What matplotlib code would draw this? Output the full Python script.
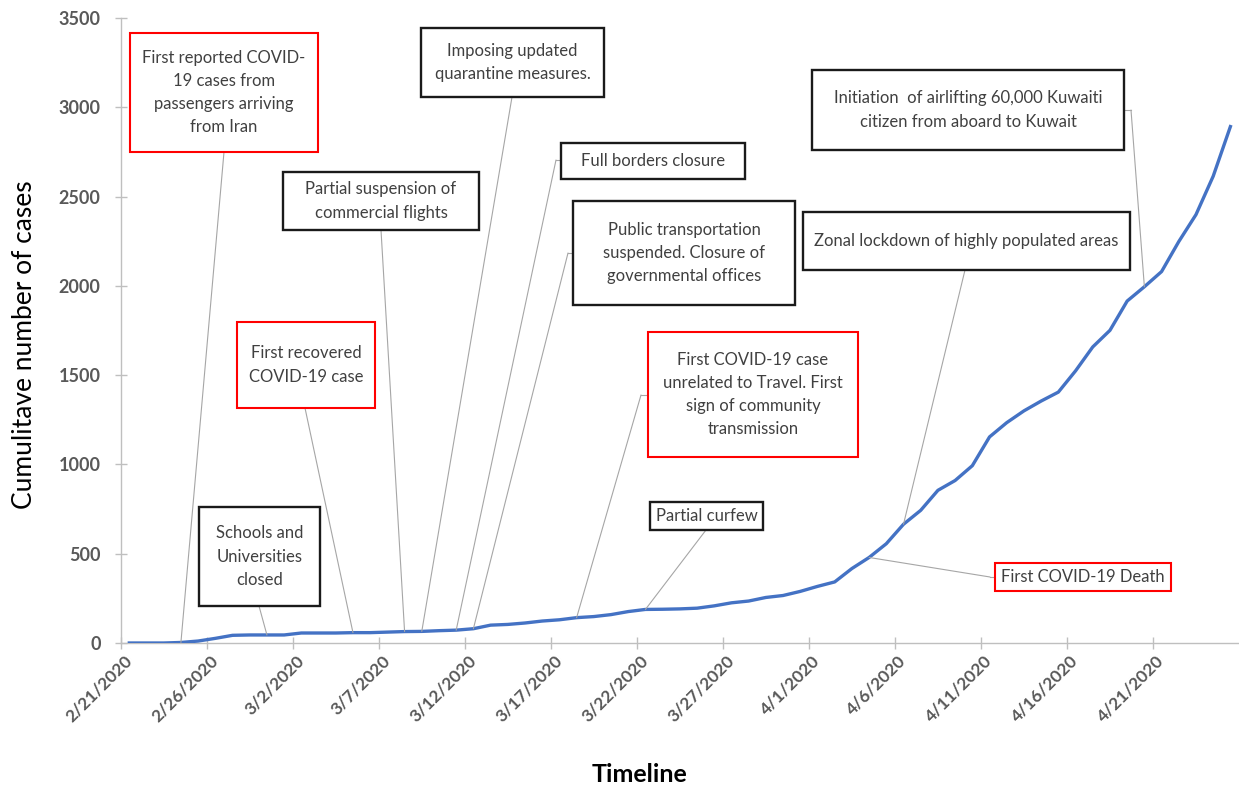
import matplotlib
matplotlib.use("Agg")
import matplotlib.pyplot as plt
from matplotlib.patches import Rectangle, ConnectionPatch
from matplotlib.lines import Line2D
from matplotlib.transforms import IdentityTransform

plt.rcParams['font.family'] = ['Lato', 'DejaVu Sans']

# Cumulative confirmed cases, one value per day from 2/21/2020 to 4/25/2020
cases = [0, 0, 0, 3, 11, 26, 43, 45, 45, 45,
         56, 56, 56, 58, 58, 61, 64, 65, 69, 72,
         80, 100, 104, 112, 123, 130, 142, 148, 159, 176,
         188, 189, 191, 195, 208, 225, 235, 255, 266, 289,
         317, 342, 417, 479, 556, 665, 743, 855, 910, 993,
         1154, 1234, 1300, 1355, 1405, 1524, 1658, 1751, 1915, 1995,
         2080, 2248, 2399, 2614, 2892]
days = list(range(len(cases)))

tick_labels = ["2/21/2020", "2/26/2020", "3/2/2020", "3/7/2020", "3/12/2020",
               "3/17/2020", "3/22/2020", "3/27/2020", "4/1/2020", "4/6/2020",
               "4/11/2020", "4/16/2020", "4/21/2020"]
y_ticks = [0, 500, 1000, 1500, 2000, 2500, 3000, 3500]

# Events: label text, day index of the event, highlighted (red) or not
event_text = [
    "First reported COVID-\n19 cases from\npassengers arriving\nfrom Iran",
    "Schools and\nUniversities\nclosed",
    "First recovered\nCOVID-19 case",
    "Partial suspension of\ncommercial flights",
    "Imposing updated\nquarantine measures.",
    "Full borders closure",
    "Public transportation\nsuspended. Closure of\ngovernmental offices",
    "First COVID-19 case\nunrelated to Travel. First\nsign of community\ntransmission",
    "Partial curfew",
    "First COVID-19 Death",
    "Zonal lockdown of highly populated areas",
    "Initiation  of airlifting 60,000 Kuwaiti\ncitizen from aboard to Kuwait",
]
event_day = [3, 8, 13, 16, 17, 19, 20, 26, 30, 43, 45, 59]
event_red = [True, False, True, False, False, False, False, True, False, True, False, False]

# Box layout in figure pixels (left, top, right, bottom; top-left origin),
# leader start point and optional elbow point
box_px = [
    (130, 33, 318, 152),
    (199, 507, 320, 606),
    (237, 322, 375, 408),
    (283, 172, 479, 230),
    (421, 28, 604, 97),
    (561, 143, 745, 179),
    (573, 201, 795, 305),
    (648, 332, 858, 457),
    (650, 502, 763, 530),
    (995, 563, 1171, 591),
    (803, 212, 1130, 270),
    (812, 70, 1124, 150),
]
lead_start = [
    ((224, 152), None),
    ((259, 606), None),
    ((305, 408), None),
    ((381, 230), None),
    ((512, 97), None),
    ((561, 160), (556, 160)),
    ((573, 253), (568, 253)),
    ((648, 395), (641, 395)),
    ((706, 530), None),
    ((995, 577), (990, 577)),
    ((965, 270), None),
    ((1124, 110), (1131, 110)),
]

W, H = 1239, 788
fig = plt.figure(figsize=(W / 100, H / 100), dpi=100)
ax = fig.add_axes([120.7 / W, 1 - 643 / H, (1239 - 120.7) / W, (643 - 18) / H])

ax.plot(days, cases, color='#4472C4', lw=2.4, solid_joinstyle='round', zorder=3)

ax.set_xlim(-0.5, len(cases) - 0.5)
ax.set_ylim(0, 3500)

ax.set_xticks(range(0, len(cases), 5))
ax.set_xticklabels(tick_labels, rotation=45, ha='right', va='center',
                   rotation_mode='anchor', fontsize=12.5, fontweight='bold',
                   color='#595959')
ax.set_xticks([d - 0.5 for d in range(0, len(cases), 5)], minor=True)
ax.tick_params(axis='x', which='major', length=0, pad=11)
ax.tick_params(axis='x', which='minor', length=9, direction='inout',
               color='#bfbfbf', width=1)

ax.set_yticks(y_ticks)
ax.set_yticklabels([str(v) for v in y_ticks], fontsize=13, fontweight='bold',
                   color='#595959')
ax.tick_params(axis='y', length=9, direction='inout', color='#bfbfbf',
               width=1, pad=10)

for s in ['top', 'right']:
    ax.spines[s].set_visible(False)
for s in ['left', 'bottom']:
    ax.spines[s].set_color('#bfbfbf')
    ax.spines[s].set_linewidth(1)

fig.text(25 / W, 1 - 345 / H, "Cumulitave number of cases", rotation=90,
         ha='center', va='center', fontsize=19, color='black')
fig.text(640 / W, 1 - 775 / H, "Timeline", ha='center', va='center',
         fontsize=18, fontweight='bold', color='black')


def fp(x, y):
    return (x, H - y)


for txt, day, red, box, (start, elbow) in zip(event_text, event_day, event_red,
                                               box_px, lead_start):
    l, t, r, b = box
    rect = Rectangle(fp(l, b), r - l, b - t, facecolor='white',
                     edgecolor='#ff0000' if red else '#1a1a1a',
                     lw=1.5 if red else 1.7, zorder=5)
    rect.set_transform(IdentityTransform())
    fig.patches.append(rect)
    fig.text((l + r) / 2 / W, 1 - (t + b) / 2 / H, txt, ha='center',
             va='center', fontsize=12, color='#404040', linespacing=1.55,
             zorder=6)
    p0 = start
    if elbow is not None:
        fig.lines.append(Line2D([start[0], elbow[0]], [H - start[1], H - elbow[1]],
                                transform=IdentityTransform(),
                                color='#a6a6a6', lw=0.8, zorder=4))
        p0 = elbow
    con = ConnectionPatch(xyA=fp(*p0), coordsA='figure pixels',
                          xyB=(day, cases[day]), coordsB='data', axesB=ax,
                          color='#a6a6a6', lw=0.8, zorder=4)
    fig.add_artist(con)

fig.savefig('out.png', dpi=100)
